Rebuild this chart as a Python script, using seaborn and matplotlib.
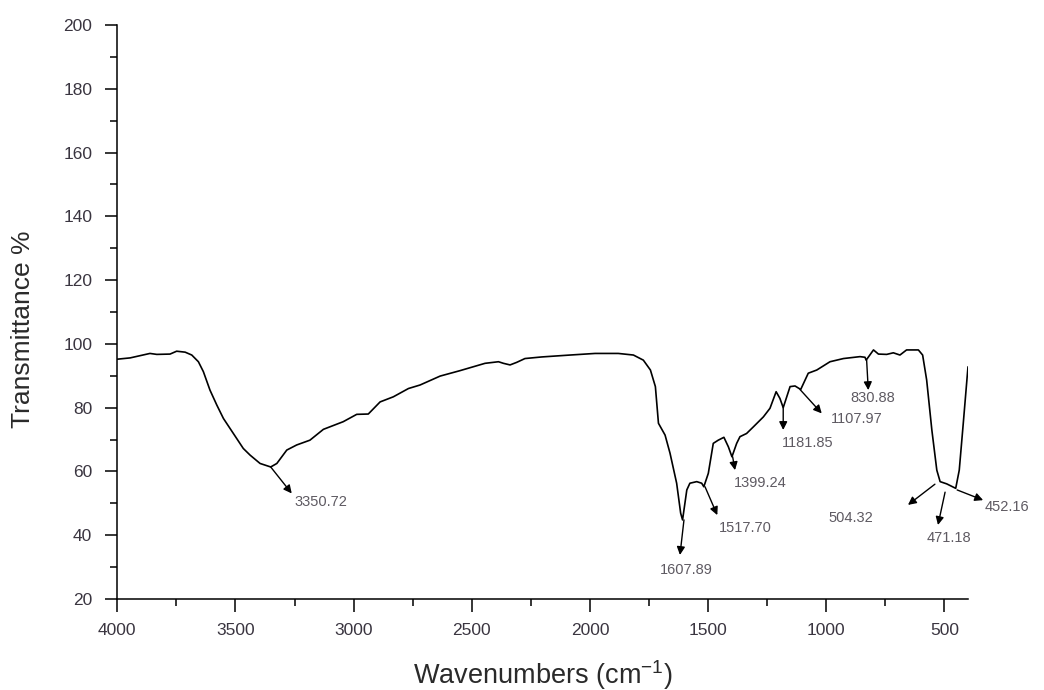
import matplotlib
matplotlib.use("Agg")
import matplotlib.pyplot as plt
from matplotlib.ticker import MultipleLocator
import seaborn as sns
import pandas as pd

# ---- data ----
wavenumber = [4000, 3946, 3862, 3833, 3777, 3749, 3713, 3685, 3657, 3636, 3608, 3579,
              3551, 3509, 3467, 3438, 3396, 3351, 3325, 3283, 3241, 3185, 3128, 3044,
              2987, 2938, 2888, 2832, 2768, 2719, 2634, 2550, 2444, 2387, 2366, 2338,
              2310, 2275, 2204, 2084, 1978, 1880, 1816, 1774, 1744, 1723, 1710, 1682,
              1661, 1633, 1616, 1608, 1590, 1577, 1548, 1527, 1518, 1499, 1478, 1457,
              1433, 1414, 1399, 1379, 1365, 1337, 1308, 1266, 1238, 1212, 1196, 1182,
              1153, 1132, 1108, 1076, 1040, 984, 927, 857, 836, 831, 800, 779, 744,
              716, 688, 660, 610, 592, 575, 553, 532, 518, 490, 452, 437, 420, 400]
transmittance = [95.2, 95.6, 97.0, 96.7, 96.8, 97.7, 97.4, 96.5, 94.4, 91.3, 85.5, 80.8,
                 76.6, 71.9, 67.2, 65.1, 62.5, 61.4, 62.5, 66.7, 68.3, 69.8, 73.2, 75.6,
                 77.9, 78.0, 81.8, 83.4, 86.0, 87.1, 89.9, 91.6, 93.9, 94.4, 93.9, 93.4,
                 94.2, 95.4, 95.9, 96.5, 97.0, 97.0, 96.5, 94.9, 91.8, 86.6, 75.1, 71.4,
                 65.7, 56.3, 46.9, 44.8, 54.2, 56.3, 56.8, 56.3, 55.2, 59.4, 68.8, 69.8,
                 70.7, 67.7, 64.6, 68.8, 70.9, 71.9, 74.0, 77.1, 79.8, 85.0, 82.9, 80.0,
                 86.6, 86.8, 85.7, 90.8, 91.8, 94.4, 95.4, 96.0, 95.8, 94.9, 98.1, 96.8,
                 96.7, 97.2, 96.5, 98.1, 98.1, 96.5, 88.7, 73.0, 60.4, 56.8, 56.1, 54.7,
                 60.4, 75.1, 92.8]

# peak labels
peak_labels = ["3350.72", "1607.89", "1517.70", "1399.24", "1181.85",
               "1107.97", "830.88", "504.32", "471.18", "452.16"]
# arrow start (on curve), arrow tip, label position
arrow_from_x = [3351, 1602, 1513, 1396, 1182, 1111, 829, 540, 497, 446]
arrow_from_y = [61.4, 44.8, 55.2, 64.6, 80.0, 85.7, 94.9, 56.0, 53.5, 54.2]
arrow_to_x = [3262, 1619, 1461, 1386, 1182, 1019, 822, 654, 527, 336]
arrow_to_y = [53.1, 33.8, 46.3, 60.4, 73.0, 78.2, 85.5, 49.5, 43.2, 51.0]
label_x = [3249, 1593, 1344, 1278, 1080, 871, 804, 896, 480, 328]
label_y = [50.5, 29.1, 42.2, 56.3, 68.8, 76.3, 82.9, 45.3, 39.0, 48.9]
label_ha = ["left", "center", "center", "center", "center", "center", "center",
            "center", "center", "left"]

x_major = [4000, 3500, 3000, 2500, 2000, 1500, 1000, 500]
y_major = [20, 40, 60, 80, 100, 120, 140, 160, 180, 200]

df = pd.DataFrame({"Wavenumber": wavenumber, "Transmittance": transmittance})

sns.set_theme(style="ticks")
plt.rcParams["font.family"] = ["Liberation Sans", "DejaVu Sans"]
plt.rcParams["mathtext.fontset"] = "custom"
plt.rcParams["mathtext.rm"] = "Liberation Sans"

fig = plt.figure(figsize=(10.44, 6.9), dpi=100)
ax = fig.add_axes([0.1124, 0.1319, 0.8148, 0.8319])

sns.lineplot(data=df, x="Wavenumber", y="Transmittance", sort=False,
             color="black", linewidth=1.2, ax=ax, estimator=None)

ax.set_xlim(4000, 400)
ax.set_ylim(20, 200)
ax.set_xticks(x_major)
ax.set_yticks(y_major)
ax.xaxis.set_minor_locator(MultipleLocator(250))
ax.yaxis.set_minor_locator(MultipleLocator(10))
ax.tick_params(axis="both", which="major", direction="out", length=9, width=1.1,
               labelsize=12.5, colors="black", labelcolor="#3a3540")
ax.tick_params(axis="both", which="minor", direction="out", length=5, width=1.1,
               colors="black")
ax.tick_params(axis="y", which="major", pad=9)
ax.tick_params(axis="x", which="major", pad=8)

sns.despine(ax=ax)
for s in ["left", "bottom"]:
    ax.spines[s].set_linewidth(1.1)
    ax.spines[s].set_color("black")

ax.set_xlabel("Wavenumbers (cm$^{-1}$)", fontsize=19.5, color="#2a2a2a")
ax.set_ylabel("Transmittance %", fontsize=19, color="#2a2a2a")
ax.xaxis.set_label_coords(0.5, -0.103)
ax.yaxis.set_label_coords(-0.097, 0.47)

for lab, fx, fy, tx, ty, lx, ly, ha in zip(peak_labels, arrow_from_x, arrow_from_y,
                                           arrow_to_x, arrow_to_y, label_x, label_y,
                                           label_ha):
    ax.annotate("", xy=(tx, ty), xytext=(fx, fy), annotation_clip=False,
                arrowprops=dict(arrowstyle="-|>", color="black", lw=1.0,
                                mutation_scale=12, shrinkA=0, shrinkB=0))
    ax.text(lx, ly, lab, ha=ha, va="center", fontsize=10.5, color="#5e5a62",
            clip_on=False)

fig.savefig("out.png", dpi=100)
